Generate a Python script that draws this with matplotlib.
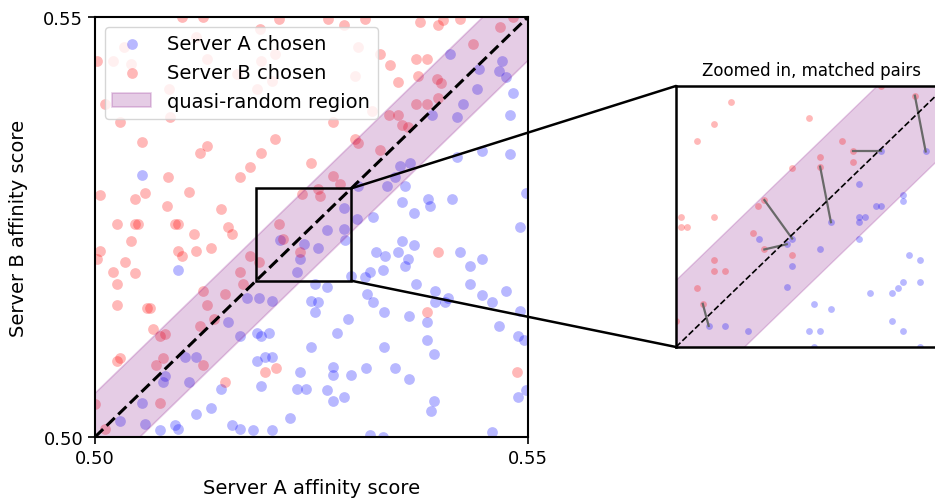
import numpy as np
import matplotlib
matplotlib.use("Agg")
from matplotlib import pyplot as plt
from matplotlib.patches import Rectangle, ConnectionPatch

# points where server A was chosen (blue)
a_pts = [
    (0.5054, 0.5312),
    (0.5410, 0.5456), (0.5470, 0.5448), (0.5443, 0.5438), (0.5466, 0.5436), (0.5475, 0.5428),
    (0.5483, 0.5410), (0.5441, 0.5414), (0.5425, 0.5396), (0.5418, 0.5381), (0.5389, 0.5383),
    (0.5479, 0.5383), (0.5447, 0.5341), (0.5479, 0.5337), (0.5418, 0.5333), (0.5352, 0.5323),
    (0.5364, 0.5326), (0.5346, 0.5309), (0.5337, 0.5299), (0.5358, 0.5299), (0.5304, 0.5299),
    (0.5385, 0.5283), (0.5387, 0.5275), (0.5354, 0.5280), (0.5412, 0.5283), (0.5287, 0.5273),
    (0.5498, 0.5291), (0.5302, 0.5260), (0.5321, 0.5262), (0.5368, 0.5267),
    (0.5096, 0.5199), (0.5175, 0.5166), (0.5189, 0.5166), (0.5204, 0.5162), (0.5154, 0.5137),
    (0.5167, 0.5120), (0.5187, 0.5124), (0.5192, 0.5120), (0.5201, 0.5124), (0.5104, 0.5095),
    (0.5117, 0.5095), (0.5187, 0.5091), (0.5196, 0.5095), (0.5204, 0.5095), (0.5081, 0.5073),
    (0.5079, 0.5065), (0.5108, 0.5065), (0.5146, 0.5057), (0.5192, 0.5061), (0.5237, 0.5077),
    (0.5233, 0.5057), (0.5244, 0.5057), (0.5054, 0.5041), (0.5117, 0.5027), (0.5134, 0.5035),
    (0.5225, 0.5023), (0.5029, 0.5019), (0.5058, 0.5015), (0.5075, 0.5008), (0.5092, 0.5014),
    (0.5096, 0.5010), (0.5158, 0.5014), (0.5167, 0.5010), (0.5183, 0.5008), (0.5204, 0.5008),
    (0.5214, 0.5234), (0.5237, 0.5212), (0.5233, 0.5196), (0.5241, 0.5230),
    (0.5491, 0.5250), (0.5354, 0.5233), (0.5368, 0.5229), (0.5325, 0.5220), (0.5335, 0.5216),
    (0.5350, 0.5220), (0.5362, 0.5212), (0.5358, 0.5204), (0.5421, 0.5220), (0.5447, 0.5212),
    (0.5433, 0.5204), (0.5318, 0.5197), (0.5333, 0.5199), (0.5312, 0.5190), (0.5296, 0.5192),
    (0.5371, 0.5182), (0.5433, 0.5182), (0.5475, 0.5174), (0.5393, 0.5174), (0.5447, 0.5169),
    (0.5458, 0.5161), (0.5408, 0.5165), (0.5404, 0.5161), (0.5393, 0.5161), (0.5254, 0.5182),
    (0.5268, 0.5178), (0.5250, 0.5162), (0.5258, 0.5161), (0.5254, 0.5149), (0.5314, 0.5170),
    (0.5321, 0.5161), (0.5334, 0.5149), (0.5363, 0.5144), (0.5383, 0.5137), (0.5383, 0.5115),
    (0.5392, 0.5099), (0.5491, 0.5150), (0.5467, 0.5132), (0.5488, 0.5120), (0.5495, 0.5116),
    (0.5292, 0.5141), (0.5279, 0.5124), (0.5250, 0.5107), (0.5334, 0.5107), (0.5275, 0.5083),
    (0.5275, 0.5074), (0.5296, 0.5074), (0.5313, 0.5082), (0.5346, 0.5082), (0.5363, 0.5069),
    (0.5268, 0.5056), (0.5275, 0.5043), (0.5288, 0.5048), (0.5392, 0.5043), (0.5388, 0.5031),
    (0.5488, 0.5048), (0.5498, 0.5056), (0.5458, 0.5006), (0.5317, 0.5002), (0.5333, 0.5000),
    (0.5268, 0.5246), (0.5287, 0.5248), (0.5289, 0.5234), (0.5258, 0.5225),
]

# points where server B was chosen (red)
b_pts = [
    (0.5125, 0.5500), (0.5100, 0.5500), (0.5212, 0.5498), (0.5002, 0.5448), (0.5021, 0.5448),
    (0.5042, 0.5444), (0.5033, 0.5464), (0.5117, 0.5476), (0.5129, 0.5450), (0.5192, 0.5448),
    (0.5208, 0.5456), (0.5191, 0.5486), (0.5085, 0.5414), (0.5012, 0.5396), (0.5029, 0.5375),
    (0.5054, 0.5351), (0.5121, 0.5338), (0.5129, 0.5346), (0.5192, 0.5338), (0.5208, 0.5355),
    (0.5179, 0.5321), (0.5167, 0.5309), (0.5084, 0.5309), (0.5058, 0.5291), (0.5046, 0.5283),
    (0.5108, 0.5292), (0.5006, 0.5288), (0.5083, 0.5275), (0.5146, 0.5271), (0.5087, 0.5381),
    (0.5164, 0.5432), (0.5187, 0.5414), (0.5204, 0.5424),
    (0.5269, 0.5498), (0.5287, 0.5490), (0.5312, 0.5498), (0.5375, 0.5494), (0.5396, 0.5490),
    (0.5402, 0.5496), (0.5421, 0.5498), (0.5329, 0.5456), (0.5341, 0.5443), (0.5371, 0.5450),
    (0.5383, 0.5450), (0.5350, 0.5422), (0.5373, 0.5430), (0.5395, 0.5426), (0.5400, 0.5421),
    (0.5437, 0.5468), (0.5468, 0.5488), (0.5483, 0.5500), (0.5396, 0.5404), (0.5371, 0.5396),
    (0.5383, 0.5396), (0.5339, 0.5383), (0.5350, 0.5383), (0.5354, 0.5371), (0.5362, 0.5369),
    (0.5300, 0.5355), (0.5304, 0.5350), (0.5329, 0.5342), (0.5250, 0.5326), (0.5275, 0.5311),
    (0.5283, 0.5301), (0.5258, 0.5295), (0.5260, 0.5287), (0.5239, 0.5289), (0.5275, 0.5375),
    (0.5304, 0.5464), (0.5300, 0.5430), (0.5320, 0.5388),
    (0.5025, 0.5254), (0.5046, 0.5254), (0.5050, 0.5254), (0.5092, 0.5254), (0.5096, 0.5254),
    (0.5114, 0.5242), (0.5154, 0.5250), (0.5158, 0.5242), (0.5042, 0.5233), (0.5006, 0.5221),
    (0.5002, 0.5212), (0.5035, 0.5208), (0.5096, 0.5221), (0.5100, 0.5216), (0.5117, 0.5221),
    (0.5134, 0.5225), (0.5021, 0.5196), (0.5046, 0.5195), (0.5025, 0.5182), (0.5179, 0.5216),
    (0.5189, 0.5208), (0.5167, 0.5196), (0.5171, 0.5182), (0.5125, 0.5174), (0.5150, 0.5170),
    (0.5129, 0.5157), (0.5025, 0.5157), (0.5060, 0.5153), (0.5064, 0.5153), (0.5067, 0.5129),
    (0.5075, 0.5120), (0.5081, 0.5123), (0.5137, 0.5141), (0.5121, 0.5132), (0.5025, 0.5090),
    (0.5029, 0.5094), (0.5079, 0.5094), (0.5071, 0.5086), (0.5125, 0.5086), (0.5196, 0.5077),
    (0.5209, 0.5082), (0.5150, 0.5065), (0.5075, 0.5040), (0.5000, 0.5039), (0.5012, 0.5010),
    (0.5212, 0.5254), (0.5217, 0.5236), (0.5237, 0.5220),
    (0.5396, 0.5220), (0.5383, 0.5149), (0.5487, 0.5077),
]

# zoomed-in sample
zoom_a = [
    (0.52694, 0.52684), (0.52877, 0.52684), (0.52607, 0.52546), (0.52786, 0.52500),
    (0.52786, 0.52476), (0.52673, 0.52454), (0.52694, 0.52454), (0.52607, 0.52409),
    (0.52629, 0.52409), (0.52491, 0.52386), (0.52607, 0.52386), (0.52607, 0.52317),
    (0.52333, 0.52317), (0.52311, 0.52293), (0.52197, 0.52317), (0.52447, 0.52271),
    (0.52333, 0.52201), (0.52809, 0.52249), (0.52853, 0.52225), (0.52786, 0.52132),
    (0.52853, 0.52132), (0.52764, 0.52109), (0.52741, 0.52087), (0.52650, 0.52087),
    (0.52311, 0.52112), (0.52423, 0.52042), (0.52491, 0.52018), (0.51993, 0.51949),
    (0.52061, 0.51949), (0.52152, 0.51926), (0.52741, 0.51971), (0.52402, 0.51926),
    (0.52447, 0.51926), (0.52786, 0.51926), (0.52423, 0.51860), (0.52853, 0.51860),
]
zoom_b = [
    (0.52082, 0.52892), (0.52015, 0.52801), (0.51947, 0.52730), (0.52402, 0.52824),
    (0.52694, 0.52959), (0.52538, 0.52730), (0.52447, 0.52662), (0.52447, 0.52620),
    (0.52582, 0.52684), (0.52582, 0.52639), (0.52333, 0.52616), (0.52833, 0.52919),
    (0.52220, 0.52479), (0.52196, 0.52454), (0.51879, 0.52409), (0.52015, 0.52409),
    (0.51879, 0.52364), (0.51903, 0.52364), (0.52175, 0.52341), (0.52220, 0.52271),
    (0.52333, 0.52249), (0.52015, 0.52225), (0.52015, 0.52179), (0.52061, 0.52179),
    (0.51947, 0.52109), (0.51969, 0.52042), (0.51860, 0.51971),
]
# (index in zoom_b, index in zoom_a)
matched = [(12, 12), (19, 13), (7, 9), (8, 0), (11, 1), (25, 27)]

lo, hi = 0.50, 0.55
z_lo, z_hi = 0.5186, 0.5296
band_main = 0.0052
band_zoom = 0.0028

plt.rcParams['font.family'] = 'DejaVu Sans'
fig = plt.figure(figsize=(9.35, 5.02), dpi=100)
ax = fig.add_axes([0.1016, 0.1275, 0.4631, 0.8367])

a = np.array(a_pts)
b = np.array(b_pts)
ax.scatter(a[:, 0], a[:, 1], s=60, color='blue', alpha=0.28, lw=0, label='Server A chosen')
ax.scatter(b[:, 0], b[:, 1], s=60, color='red', alpha=0.28, lw=0, label='Server B chosen')
xs = np.linspace(lo - 0.01, hi + 0.01, 10)
ax.fill_between(xs, xs - band_main, xs + band_main, color='purple', alpha=0.2,
                lw=1.2, label='quasi-random region')
ax.plot([lo, hi], [lo, hi], 'k--', lw=2.2, zorder=4)
ax.add_patch(Rectangle((z_lo, z_lo), z_hi - z_lo, z_hi - z_lo, fill=False,
                       ec='black', lw=1.8, zorder=5))
ax.set_xlim(lo, hi)
ax.set_ylim(lo, hi)
ax.set_xticks([lo, hi])
ax.set_yticks([lo, hi])
ax.set_xticklabels(['0.50', '0.55'])
ax.set_yticklabels(['0.50', '0.55'])
ax.tick_params(labelsize=13, length=5, width=1.2)
for sp in ax.spines.values():
    sp.set_linewidth(1.5)
ax.set_xlabel('Server A affinity score', fontsize=14, labelpad=8)
ax.set_ylabel('Server B affinity score', fontsize=14, labelpad=11)
leg = ax.legend(loc='upper left', fontsize=14, borderaxespad=0.5)

# inset
axz = fig.add_axes([0.723, 0.3068, 0.2888, 0.52])
za = np.array(zoom_a)
zb = np.array(zoom_b)
for i, j in matched:
    axz.plot([zb[i, 0], za[j, 0]], [zb[i, 1], za[j, 1]], color='dimgray', lw=1.6, zorder=3)
axz.scatter(za[:, 0], za[:, 1], s=24, color='blue', alpha=0.28, lw=0, zorder=2)
axz.scatter(zb[:, 0], zb[:, 1], s=24, color='red', alpha=0.28, lw=0, zorder=2)
zx = np.linspace(z_lo - 0.005, z_hi + 0.005, 10)
axz.fill_between(zx, zx - band_zoom, zx + band_zoom, color='purple', alpha=0.2, lw=1.0)
axz.plot([z_lo, z_hi], [z_lo, z_hi], 'k--', lw=1.2, zorder=4)
axz.set_xlim(z_lo, z_hi)
axz.set_ylim(z_lo, z_hi)
axz.set_xticks([])
axz.set_yticks([])
for sp in axz.spines.values():
    sp.set_linewidth(1.8)
axz.set_title('Zoomed in, matched pairs', fontsize=12, pad=8)

# lines from the box to the inset
for (xa, ya), (xb, yb) in [((z_hi, z_hi), (0, 1)), ((z_hi, z_lo), (0, 0))]:
    con = ConnectionPatch(xyA=(xa, ya), coordsA=ax.transData,
                          xyB=(xb, yb), coordsB=axz.transAxes,
                          color='black', lw=1.8)
    fig.add_artist(con)

fig.savefig('out.png', dpi=100)
